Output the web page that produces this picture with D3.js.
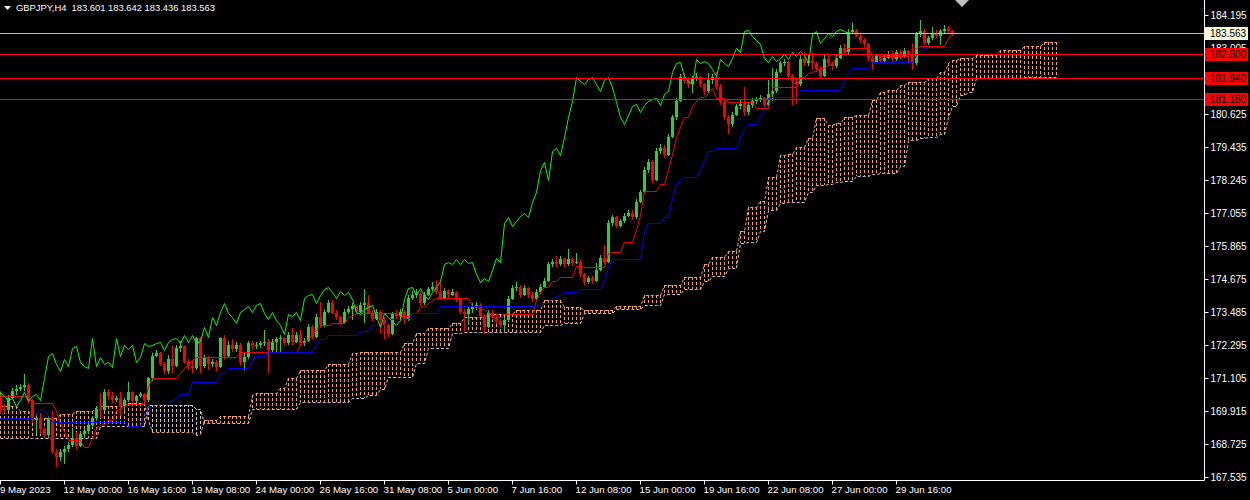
<!DOCTYPE html>
<html>
<head>
<meta charset="utf-8">
<script src="https://cdn.jsdelivr.net/npm/d3@7"></script>
<style>
  body { margin: 0; background: #000; }
  svg { display: block; }
  text { font-family: 'Liberation Sans', Arial, sans-serif; font-size: 10px; fill: #fff; }
  .time-label { font-size: 9.7px; }
  .header { font-size: 9.4px; }
</style>
</head>
<body>
<svg id="chart" width="1250" height="500"></svg>
<script>
const symbolTitle = 'GBPJPY,H4  183.601 183.642 183.436 183.563';
const firstOpen = 170.50;
const chikouShift = 26;

// H4 bars, 9 May 08:00 .. 3 Jul 2023 (open of each bar = previous close)
const closes = [
  170.00,169.95,170.40,170.62,170.70,170.78,170.85,170.30,169.60,169.68,
  169.25,169.05,169.65,168.45,168.25,168.45,168.55,168.70,168.95,168.65,
  169.10,169.20,169.40,169.65,170.00,169.95,170.60,170.45,170.30,170.38,
  170.10,170.30,170.60,170.28,170.45,170.52,170.30,171.10,171.90,172.00,
  171.62,171.35,171.80,171.55,172.20,172.25,171.70,171.55,171.45,172.55,
  171.55,171.85,171.60,171.70,171.50,172.55,171.90,172.30,172.15,172.30,
  171.70,171.85,172.35,172.25,172.30,172.35,172.40,172.10,172.40,172.50,
  172.55,172.35,172.65,172.40,172.65,172.35,172.45,172.95,172.60,173.30,
  173.00,173.50,173.80,173.45,173.30,173.10,173.50,173.60,173.70,173.50,
  173.75,173.80,173.45,173.25,173.50,173.20,173.00,172.70,173.40,173.35,
  173.50,173.20,174.00,174.10,174.15,173.80,174.10,174.30,174.40,174.20,
  174.00,174.25,174.10,174.20,173.95,173.50,173.40,173.60,173.65,173.75,
  173.35,172.95,173.45,173.30,173.15,173.00,173.20,173.95,174.35,174.40,
  174.10,174.35,174.10,173.95,174.20,174.40,174.60,175.20,175.30,175.20,
  175.40,175.20,175.38,175.25,175.30,174.85,174.55,174.70,174.60,175.00,
  175.45,175.30,176.70,176.90,176.60,176.75,176.95,177.05,176.90,177.45,
  177.80,178.60,178.90,178.25,179.30,179.40,179.15,179.80,180.50,181.10,
  181.95,181.80,181.70,181.90,181.95,181.70,181.45,181.85,181.95,181.60,
  181.05,180.50,180.25,180.60,180.90,181.00,180.70,180.95,181.10,181.15,
  181.20,180.95,181.35,181.45,182.15,182.45,182.50,182.00,181.80,181.70,
  182.60,182.45,182.55,182.45,182.25,182.00,182.60,182.45,182.35,182.65,
  183.00,182.85,183.60,183.65,183.45,183.30,183.15,182.65,182.50,182.70,
  182.55,182.65,182.80,182.60,182.85,182.70,182.90,182.75,182.45,183.50,
  183.62,183.20,183.35,183.55,183.45,183.62,183.70,183.601,183.563
];

const highs = [
  170.62,170.15,170.48,170.75,170.85,170.90,171.25,170.92,170.35,169.80,
  169.85,169.35,169.75,169.90,168.55,168.55,168.65,168.80,169.30,169.15,
  169.20,169.30,169.50,169.75,170.10,170.55,170.70,170.70,170.60,170.45,
  170.60,170.40,170.95,170.65,170.50,170.60,170.55,171.15,172.00,172.10,
  172.05,171.70,171.95,172.25,172.30,172.45,172.30,171.80,171.75,172.60,
  172.60,171.95,171.90,171.80,171.75,172.60,172.65,172.45,172.50,172.40,
  172.35,172.00,172.45,172.45,172.40,172.45,172.85,172.50,172.50,172.60,
  172.65,172.60,172.75,172.90,172.75,172.85,172.55,173.05,173.00,173.40,
  173.85,173.60,173.90,173.90,173.55,173.35,173.60,173.70,173.80,173.75,
  173.85,174.30,174.10,173.55,173.60,173.55,173.30,173.05,173.50,173.55,
  173.60,173.55,174.10,174.25,174.30,174.25,174.20,174.40,174.55,174.65,
  174.60,174.35,174.30,174.30,174.25,174.00,173.60,173.70,173.80,173.85,
  173.80,173.40,173.55,173.55,173.40,173.25,173.30,174.05,174.45,174.55,
  174.45,174.45,174.40,174.20,174.30,174.50,174.70,175.30,175.40,175.50,
  175.50,175.45,175.75,175.45,175.60,175.35,174.90,174.80,174.80,175.25,
  175.55,175.90,176.80,177.00,176.95,176.85,177.05,177.15,177.15,177.55,
  177.90,178.70,179.00,178.95,179.40,179.55,179.50,179.90,180.60,181.20,
  182.05,182.10,181.95,182.00,182.10,182.00,181.75,182.10,182.05,182.15,
  181.70,181.15,180.60,180.70,181.00,181.15,181.60,181.05,181.20,181.25,
  181.30,181.25,181.85,182.30,182.25,182.55,182.60,182.55,182.05,181.90,
  182.80,182.85,182.75,182.85,182.50,182.35,182.75,182.70,182.50,182.80,
  183.10,183.15,183.70,183.90,183.70,183.50,183.35,183.20,182.70,182.80,
  182.75,182.75,182.90,182.90,182.95,182.95,183.00,182.95,183.20,183.60,
  184.00,183.70,183.45,183.75,183.65,183.70,183.85,183.80,183.642
];

const lows = [
  169.80,169.85,169.90,170.35,170.50,170.62,170.65,170.20,169.50,169.10,
  169.10,168.95,168.95,168.35,167.90,168.10,168.00,168.45,168.60,168.55,
  168.60,168.95,169.10,169.30,169.55,169.65,169.90,170.30,170.20,170.25,
  169.75,169.90,170.25,170.20,170.20,170.40,170.20,170.25,171.00,171.85,
  171.55,171.25,171.25,171.30,171.50,172.05,171.60,171.40,171.30,171.40,
  171.30,171.45,171.40,171.50,171.35,171.45,171.80,171.85,172.05,172.05,
  171.55,171.40,171.80,172.10,172.15,172.20,172.25,171.30,172.05,172.00,
  172.00,172.25,172.30,172.30,172.35,172.25,172.25,172.40,172.50,172.55,
  172.90,172.95,173.45,173.40,173.20,173.00,173.05,173.40,173.20,173.40,
  173.45,173.10,173.40,173.15,173.20,172.70,172.50,172.60,172.65,173.25,
  173.25,173.05,173.15,173.90,174.00,173.70,173.75,174.05,174.25,174.15,
  173.90,173.95,174.00,174.05,173.85,173.40,172.80,173.00,173.45,173.55,
  173.30,172.70,172.90,173.20,173.05,172.90,172.75,173.15,173.90,174.25,
  174.00,174.05,174.00,173.85,173.90,174.15,174.35,174.55,175.10,175.10,
  175.15,175.10,175.15,175.15,175.20,174.75,174.45,174.50,174.50,174.55,
  174.95,175.20,175.25,176.60,176.50,176.55,176.70,176.90,176.80,176.85,
  177.40,177.75,178.50,178.15,178.20,179.20,179.05,179.10,179.75,180.40,
  181.05,181.70,181.55,181.40,181.80,181.60,181.30,181.40,181.70,181.50,
  180.95,180.40,179.90,180.15,180.55,180.80,180.55,180.60,180.85,181.00,
  181.05,180.85,180.90,181.10,181.40,182.10,182.35,181.90,180.95,181.00,
  181.65,182.35,182.35,182.25,182.15,181.90,181.95,182.35,182.20,182.30,
  182.60,182.75,182.80,183.50,183.40,183.20,183.05,182.55,182.20,182.45,
  182.45,182.45,182.60,182.50,182.55,182.60,182.65,182.45,182.20,182.40,
  183.40,183.10,183.10,183.30,183.35,183.10,183.55,183.50,183.436
];

// Ichimoku lines
const tenkan = [
  170.45,170.45,170.45,170.45,170.45,170.45,170.45,170.45,170.20,170.20,
  170.20,170.20,170.20,170.20,169.90,169.50,169.20,168.87,168.87,168.87,
  168.87,168.60,168.60,168.95,169.30,169.40,169.45,169.60,169.60,169.95,
  170.00,170.10,170.17,170.17,170.17,170.17,170.17,170.80,171.10,171.10,
  171.10,171.10,171.10,171.10,171.10,171.30,171.45,171.60,171.75,171.85,
  171.85,171.85,171.85,171.85,171.85,171.85,171.85,171.85,171.85,171.85,
  172.05,172.05,172.05,172.05,172.05,172.05,172.05,172.05,172.05,172.05,
  172.05,172.05,172.05,172.05,172.05,172.30,172.40,172.50,172.70,172.85,
  173.00,173.00,173.00,173.10,173.10,173.10,173.10,173.30,173.35,173.45,
  173.45,173.45,173.45,173.45,173.45,173.45,173.45,173.45,173.45,173.45,
  173.35,173.35,173.35,173.45,173.45,173.65,173.70,173.80,173.90,174.00,
  174.00,174.00,174.00,174.00,174.00,174.00,174.00,174.00,173.70,173.70,
  173.60,173.60,173.45,173.35,173.30,173.30,173.40,173.40,173.40,173.40,
  173.40,173.40,173.40,173.40,173.90,174.20,174.40,174.40,174.60,174.60,
  174.75,174.75,174.75,174.75,175.15,175.15,175.10,175.10,175.10,175.10,
  175.10,175.10,175.60,175.65,175.65,175.65,176.00,176.00,176.00,176.45,
  177.00,177.85,177.85,177.85,177.85,178.10,178.10,178.60,179.20,179.80,
  180.15,180.50,180.50,180.90,181.10,181.25,181.25,181.40,181.55,181.20,
  181.20,181.20,181.05,181.05,181.05,181.05,181.05,181.05,181.05,180.85,
  180.85,180.85,180.85,181.60,181.60,181.60,181.60,181.60,181.60,181.60,
  181.95,181.95,182.10,182.15,182.20,182.30,182.30,182.40,182.40,182.70,
  182.80,182.85,183.00,183.00,183.00,183.00,183.00,183.00,182.80,182.80,
  182.70,182.70,182.70,182.70,182.70,182.70,182.70,182.70,182.90,183.00,
  183.07,183.07,183.07,183.07,183.07,183.07,183.07,183.35,183.55
];

const kijun = [
  169.66,169.66,169.66,169.66,169.66,169.66,169.66,169.66,169.66,169.77,
  170.00,170.00,169.75,169.52,169.52,169.52,169.52,169.52,169.52,169.52,
  169.52,169.52,169.52,169.52,169.52,169.52,169.52,169.52,169.52,169.52,
  169.52,169.52,169.37,169.37,169.37,169.37,169.85,170.05,170.05,170.05,
  170.05,170.05,170.20,170.30,170.40,170.52,170.52,170.52,170.97,170.97,
  170.97,170.97,170.97,170.97,170.97,171.30,171.30,171.45,171.45,171.45,
  171.45,171.45,171.45,171.75,171.90,171.90,171.90,172.05,172.05,172.05,
  172.05,172.05,172.05,172.05,172.05,172.05,172.05,172.05,172.05,172.30,
  172.50,172.50,172.65,172.65,172.65,172.65,172.65,172.65,172.65,172.65,
  172.75,172.80,172.80,173.00,173.00,173.00,173.00,173.22,173.22,173.22,
  173.22,173.22,173.22,173.45,173.45,173.45,173.45,173.45,173.45,173.45,
  173.70,173.70,173.70,173.70,173.70,173.70,173.70,173.70,173.70,173.70,
  173.70,173.70,173.70,173.70,173.70,173.70,173.70,173.70,173.70,173.70,
  173.70,173.70,173.70,173.70,173.70,173.80,173.80,173.80,174.00,174.05,
  174.10,174.20,174.20,174.20,174.20,174.30,174.30,174.30,174.30,174.30,
  174.30,174.60,175.10,175.38,175.38,175.38,175.38,175.38,175.38,175.38,
  175.38,176.40,176.70,176.70,176.70,176.70,176.90,176.90,177.60,178.10,
  178.25,178.35,178.35,178.35,178.35,178.60,178.95,179.30,179.30,179.40,
  179.40,179.40,179.40,179.40,179.40,179.80,180.10,180.25,180.25,180.25,
  180.50,180.85,181.20,181.25,181.25,181.25,181.25,181.25,181.25,181.25,
  181.50,181.50,181.50,181.50,181.50,181.50,181.50,181.50,181.50,181.50,
  181.50,181.80,182.10,182.30,182.30,182.30,182.30,182.30,182.50,182.50,
  182.50,182.50,182.50,182.50,182.50,182.50,182.50,182.50,182.50,182.75,
  182.90,183.00,183.04,183.04,183.04,183.04,183.04,183.04,183.04
];

// Senkou spans, already shifted 26 bars ahead (265 bars)
const spanA = [
  170.10,170.10,170.10,170.10,170.10,169.90,169.90,169.90,169.65,169.65,
  169.65,169.65,169.65,169.65,169.65,169.80,169.80,169.80,169.80,169.90,
  169.90,169.90,169.90,169.90,170.05,170.10,170.10,170.10,170.10,170.10,
  170.10,170.10,170.20,170.20,170.20,170.20,170.20,169.60,169.16,169.16,
  169.16,169.16,169.16,169.16,169.16,169.16,169.16,169.16,169.16,169.05,
  169.10,169.60,169.60,169.60,169.60,169.75,169.75,169.75,169.75,169.75,
  169.75,169.75,169.75,170.50,170.55,170.55,170.55,170.55,170.55,170.55,
  170.75,170.75,171.10,171.10,171.10,171.40,171.40,171.40,171.40,171.40,
  171.40,171.40,171.60,171.60,171.60,171.60,171.60,171.60,172.00,172.00,
  172.05,172.05,172.05,172.05,172.05,172.05,172.05,172.05,172.05,172.05,
  172.05,172.35,172.35,172.35,172.73,172.73,172.73,172.90,172.90,172.90,
  172.90,172.90,172.90,173.10,173.10,173.10,173.30,173.30,173.30,173.30,
  173.30,173.30,173.40,173.40,173.40,173.40,173.40,173.40,173.40,173.55,
  173.55,173.55,173.55,173.55,173.55,173.55,173.90,173.90,173.90,173.90,
  173.90,173.66,173.66,173.66,173.66,173.66,173.56,173.56,173.56,173.56,
  173.56,173.56,173.56,173.56,173.70,173.70,173.70,173.70,173.70,173.70,
  173.70,174.10,174.10,174.10,174.10,174.10,174.46,174.46,174.46,174.46,
  174.46,174.75,174.75,174.75,174.75,174.75,175.20,175.20,175.47,175.47,
  175.47,175.47,175.70,175.70,175.70,176.40,176.40,177.27,177.27,177.27,
  177.50,177.50,178.35,178.35,178.35,179.15,179.15,179.20,179.20,179.43,
  179.43,179.43,179.76,179.76,180.48,180.48,180.48,180.23,180.23,180.30,
  180.30,180.52,180.52,180.52,180.60,180.60,180.60,180.60,181.13,181.13,
  181.42,181.42,181.49,181.49,181.49,181.67,181.67,181.78,181.78,181.78,
  181.78,181.78,181.92,181.92,181.92,182.14,182.14,182.46,182.57,182.57,
  182.64,182.64,182.64,182.64,182.75,182.75,182.75,182.75,182.75,182.75,
  182.95,182.95,182.95,182.95,182.95,182.95,183.08,183.08,183.08,183.08,
  183.08,183.22,183.22,183.22,183.22
];

const spanB = [
  168.94,168.94,168.94,168.94,168.94,168.94,168.94,168.94,168.94,168.94,
  168.94,168.94,168.94,168.94,168.94,168.94,168.94,168.94,168.94,168.94,
  168.94,168.94,168.94,168.94,168.94,169.37,169.37,169.37,169.37,169.37,
  169.37,169.37,169.37,169.37,169.37,169.37,169.37,170.13,170.13,170.13,
  170.13,170.13,170.13,170.13,170.13,170.13,170.13,170.13,170.13,170.00,
  170.00,169.50,169.50,169.50,169.50,169.50,169.50,169.50,169.50,169.50,
  169.50,169.50,169.50,170.00,170.00,170.00,170.00,170.00,170.00,170.00,
  170.00,170.00,170.00,170.00,170.00,170.25,170.25,170.25,170.25,170.25,
  170.25,170.25,170.25,170.25,170.25,170.25,170.25,170.25,170.40,170.40,
  170.40,170.40,170.50,170.50,170.50,170.70,170.70,171.15,171.15,171.15,
  171.15,171.15,171.15,171.15,171.65,171.65,171.65,172.20,172.20,172.20,
  172.20,172.20,172.20,172.73,172.73,172.73,172.76,172.76,172.76,172.76,
  172.76,172.76,172.76,172.76,172.76,172.76,172.76,172.76,172.76,172.76,
  172.76,172.76,172.76,172.76,172.76,172.76,173.00,173.00,173.00,173.00,
  173.00,173.10,173.10,173.10,173.10,173.10,173.45,173.45,173.45,173.45,
  173.45,173.45,173.45,173.45,173.60,173.60,173.60,173.60,173.60,173.60,
  173.60,173.75,173.75,173.75,173.75,173.75,174.15,174.15,174.15,174.15,
  174.15,174.30,174.30,174.30,174.30,174.30,174.60,174.60,174.80,174.80,
  174.80,174.80,175.07,175.07,175.07,175.97,175.97,176.00,176.00,176.00,
  176.40,176.40,177.16,177.16,177.16,177.40,177.40,177.45,177.45,177.45,
  177.45,177.45,177.80,177.80,178.05,178.05,178.05,178.10,178.10,178.18,
  178.18,178.20,178.20,178.20,178.40,178.40,178.40,178.40,178.45,178.45,
  178.50,178.50,178.50,178.50,178.50,178.75,178.75,179.70,179.70,179.70,
  179.76,179.76,179.80,179.80,179.80,179.90,179.90,180.50,180.90,180.90,
  181.30,181.30,181.42,181.42,181.92,181.92,181.92,181.92,181.92,181.92,
  181.92,181.92,181.92,181.92,181.92,181.92,181.95,181.95,181.95,181.95,
  181.95,181.96,181.96,181.96,181.96
];

const priceTicks = [184.195, 183.005, 181.815, 180.625, 179.435, 178.245, 177.055,
  175.865, 174.675, 173.485, 172.295, 171.105, 169.915, 168.725, 167.535];
const timeLabels = ['9 May 2023', '12 May 00:00', '16 May 16:00', '19 May 08:00', '24 May 00:00',
  '26 May 16:00', '31 May 08:00', '5 Jun 00:00', '7 Jun 16:00', '12 Jun 08:00',
  '15 Jun 00:00', '19 Jun 16:00', '22 Jun 08:00', '27 Jun 00:00', '29 Jun 16:00'];
const labelEvery = 16;
const levelLines = [182.800, 181.940, 181.180];
const bidPrice = 183.563;

const plotRight = 1204, plotBottom = 480, barStep = 4;
const colors = {
  bull: '#32cd32', bear: '#ff0000', tenkan: '#ff0000', kijun: '#0000ff',
  chikou: '#00ff00', spanUp: '#f4a460', spanDown: '#d8bfd8', axis: '#ffffff',
  level: '#ff0000', bid: '#c0c0c0', bidLabel: '#f8f8dc'
};

const svg = d3.select('#chart');
svg.append('rect').attr('width', 1250).attr('height', 500).attr('fill', '#000');

const x = d3.scaleLinear().domain([0, plotRight / barStep]).range([0, plotRight]);
const y = d3.scaleLinear().domain([167.535, 184.195]).range([477, 15]);
const px = i => Math.round(x(i)) + 0.5;

svg.append('clipPath').attr('id', 'plot-clip')
  .append('rect').attr('x', 0).attr('y', 0).attr('width', plotRight).attr('height', plotBottom);

const plot = svg.append('g').attr('clip-path', 'url(#plot-clip)');

const bars = closes.map((c, i) => ({
  i, c, h: highs[i], l: lows[i],
  o: i === 0 ? firstOpen : closes[i - 1]
}));

// cloud: dotted vertical histogram between the spans
const cloud = spanA.map((a, k) => ({ k, a, b: spanB[k] }));
plot.append('g').selectAll('line')
  .data(cloud)
  .join('line')
  .attr('x1', d => px(d.k)).attr('x2', d => px(d.k))
  .attr('y1', d => y(d.a)).attr('y2', d => y(d.b))
  .attr('stroke', d => d.a >= d.b ? colors.spanUp : colors.spanDown)
  .attr('stroke-width', 1)
  .attr('stroke-dasharray', '3,2')
  .attr('shape-rendering', 'crispEdges');

const spanLine = key => d3.line().x(d => px(d.k)).y(d => Math.round(y(d[key])) + 0.5);
plot.append('path').datum(cloud).attr('d', spanLine('a'))
  .attr('fill', 'none').attr('stroke', colors.spanUp).attr('stroke-dasharray', '3,2');
plot.append('path').datum(cloud).attr('d', spanLine('b'))
  .attr('fill', 'none').attr('stroke', colors.spanDown).attr('stroke-dasharray', '3,2');

// candles
const candles = plot.append('g').attr('shape-rendering', 'crispEdges');
candles.selectAll('.wick')
  .data(bars)
  .join('line')
  .attr('class', 'wick')
  .attr('x1', d => px(d.i)).attr('x2', d => px(d.i))
  .attr('y1', d => y(d.h)).attr('y2', d => y(d.l))
  .attr('stroke', d => d.c >= d.o ? colors.bull : colors.bear);
candles.selectAll('.body')
  .data(bars)
  .join('rect')
  .attr('class', 'body')
  .attr('x', d => px(d.i) - 1.5)
  .attr('width', 3)
  .attr('y', d => y(Math.max(d.o, d.c)))
  .attr('height', d => Math.max(1, Math.abs(y(d.o) - y(d.c))))
  .attr('fill', d => d.c >= d.o ? colors.bull : colors.bear);

// tenkan, kijun, chikou
const lineOf = shift => d3.line()
  .x((d, i) => px(i - shift))
  .y(d => Math.round(y(d)) + 0.5);
plot.append('path').datum(tenkan).attr('d', lineOf(0))
  .attr('fill', 'none').attr('stroke', colors.tenkan);
plot.append('path').datum(kijun).attr('d', lineOf(0))
  .attr('fill', 'none').attr('stroke', colors.kijun);
plot.append('path').datum(closes).attr('d', lineOf(chikouShift))
  .attr('fill', 'none').attr('stroke', colors.chikou);

// horizontal levels and bid line
plot.selectAll('.level')
  .data(levelLines)
  .join('line')
  .attr('class', 'level')
  .attr('x1', 0).attr('x2', plotRight)
  .attr('y1', d => Math.round(y(d)) + 0.5).attr('y2', d => Math.round(y(d)) + 0.5)
  .attr('stroke', colors.level);
plot.append('line')
  .attr('x1', 0).attr('x2', plotRight)
  .attr('y1', Math.round(y(bidPrice)) + 0.5).attr('y2', Math.round(y(bidPrice)) + 0.5)
  .attr('stroke', colors.bid);

// shift marker at the top
const lastX = x(closes.length + 1.5);
svg.append('path')
  .attr('d', `M${lastX - 7},0 L${lastX + 7},0 L${lastX},7 Z`)
  .attr('fill', colors.bid);

// frame
svg.append('line').attr('x1', plotRight + 0.5).attr('x2', plotRight + 0.5)
  .attr('y1', 0).attr('y2', plotBottom + 0.5).attr('stroke', colors.axis);
svg.append('line').attr('x1', 0).attr('x2', plotRight + 0.5)
  .attr('y1', plotBottom + 0.5).attr('y2', plotBottom + 0.5).attr('stroke', colors.axis);

// price axis
const yAxis = svg.append('g').attr('transform', `translate(${plotRight + 0.5},0)`);
yAxis.selectAll('line')
  .data(priceTicks)
  .join('line')
  .attr('x1', 0).attr('x2', 4)
  .attr('y1', d => Math.round(y(d)) + 0.5).attr('y2', d => Math.round(y(d)) + 0.5)
  .attr('stroke', colors.axis);
yAxis.selectAll('text')
  .data(priceTicks)
  .join('text')
  .attr('x', 6)
  .attr('y', d => y(d) + 4)
  .text(d => d.toFixed(3));

// price tags on the axis (they cover two tick labels, as in the terminal)
const tags = levelLines.map(v => ({ v, bg: colors.level }))
  .concat([{ v: bidPrice, bg: colors.bidLabel }]);
const tagG = svg.append('g').selectAll('g')
  .data(tags)
  .join('g')
  .attr('transform', d => `translate(${plotRight + 1},${Math.round(y(d.v))})`);
tagG.append('rect')
  .attr('x', 0).attr('y', -6).attr('width', 43).attr('height', 13)
  .attr('fill', d => d.bg);
tagG.append('text')
  .attr('x', 5).attr('y', 4)
  .style('fill', '#000')
  .text(d => d.v.toFixed(3));

// time axis
const timeTicks = timeLabels.map((t, j) => ({ t, i: j * labelEvery }));
const xAxis = svg.append('g').attr('transform', `translate(0,${plotBottom + 0.5})`);
xAxis.selectAll('line')
  .data(timeTicks)
  .join('line')
  .attr('x1', d => px(d.i)).attr('x2', d => px(d.i))
  .attr('y1', 0).attr('y2', 4)
  .attr('stroke', colors.axis);
xAxis.selectAll('text')
  .data(timeTicks)
  .join('text')
  .attr('class', 'time-label')
  .attr('x', d => d.i === 0 ? 0 : px(d.i) - 1)
  .attr('y', 12)
  .text(d => d.t);

// header
svg.append('path').attr('d', 'M4,6 L11,6 L7.5,10 Z').attr('fill', '#fff');
svg.append('text')
  .attr('class', 'header')
  .attr('x', 16).attr('y', 11)
  .style('white-space', 'pre')
  .text(symbolTitle);
</script>
</body>
</html>
